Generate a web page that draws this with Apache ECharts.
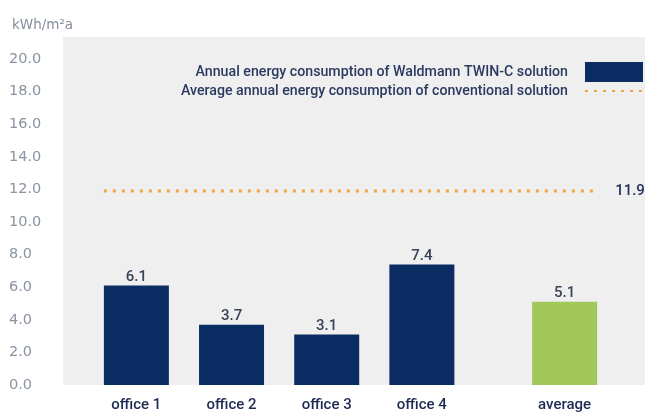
<!DOCTYPE html>
<html>
<head>
<meta charset="utf-8">
<script src="https://cdn.jsdelivr.net/npm/echarts@6/dist/echarts.min.js"></script>
<style>
html,body{margin:0;padding:0;background:#fff;}
#c{width:645px;height:413px;}
</style>
</head>
<body>
<div id="c"></div>
<script>
// ---- data ----
var categories = ['office 1', 'office 2', 'office 3', 'office 4', 'average'];
var values = [6.1, 3.7, 3.1, 7.4, 5.1];
var conventionalAvg = 11.9;
var yTicks = [0, 2, 4, 6, 8, 10, 12, 14, 16, 18, 20];
var unitLabel = 'kWh/m\u00B2a';
var seriesNames = ['Annual energy consumption of Waldmann TWIN-C solution',
                   'Average annual energy consumption of conventional solution'];

// ---- layout helpers (slot positions on a half-step category axis) ----
var slotIndex = [1, 3, 5, 7, 10];
var nSlots = 12;
var slotCats = [];
for (var i = 0; i < nSlots; i++) slotCats.push('');
slotIndex.forEach(function (s, k) { slotCats[s] = categories[k]; });
var barData = [];
for (var j = 0; j < nSlots; j++) barData.push(null);
slotIndex.forEach(function (s, k) {
  var item = { value: values[k] };
  if (categories[k] === 'average') item.itemStyle = { color: '#a2c85b' };
  barData[s] = item;
});

var gridLeft = 65, gridRight = 9;
var slotW = (645 - gridLeft - gridRight) / nSlots;
var barW = 65;
var half = barW / 2 / slotW;
var lineData = [[slotIndex[0] - half, conventionalAvg], [slotIndex[slotIndex.length - 1] + half, conventionalAvg]];

var narrow = "Roboto, sans-serif";
var navy = '#0b2c62';

var chart = echarts.init(document.getElementById('c'));
chart.setOption({
  animation: false,
  backgroundColor: '#ffffff',
  graphic: [{
    type: 'rect', z: -10, silent: true,
    shape: { x: 63, y: 37, width: 582, height: 348 },
    style: { fill: '#efefef' }
  }],
  title: {
    text: unitLabel, left: 7, top: 13,
    textStyle: { fontFamily: 'DejaVu Sans', fontSize: 13.5, fontWeight: 'normal', color: '#858e9c' }
  },
  legend: {
    orient: 'vertical', right: -4, top: 57, align: 'right',
    itemWidth: 58, itemHeight: 20, itemGap: 1,
    textStyle: { fontFamily: narrow, fontSize: 14.2, fontWeight: 500, color: '#2a3a60', padding: [0, 12, 0, 0] },
    data: [{ name: seriesNames[0], icon: 'rect' }, { name: seriesNames[1], itemStyle: { opacity: 0 } }]
  },
  grid: { left: gridLeft, right: gridRight, top: 59, bottom: 28 },
  xAxis: [{
    type: 'category', data: slotCats,
    axisLine: { show: false }, axisTick: { show: false },
    axisLabel: { interval: 0, margin: 13, fontFamily: narrow, fontSize: 15, fontWeight: 500, color: '#1d2b52' }
  }, {
    type: 'value', show: false, min: -0.5, max: nSlots - 0.5
  }],
  yAxis: {
    type: 'value', min: yTicks[0], max: yTicks[yTicks.length - 1], interval: yTicks[1] - yTicks[0],
    splitLine: { show: false }, axisLine: { show: false }, axisTick: { show: false },
    axisLabel: {
      align: 'left', margin: 56, fontFamily: 'DejaVu Sans', fontSize: 14.5, color: '#8a93a0',
      formatter: function (v) { return v.toFixed(1); }
    }
  },
  series: [{
    name: seriesNames[0], type: 'bar', data: barData, barWidth: barW,
    itemStyle: { color: navy },
    label: { show: true, position: 'top', distance: 1, fontFamily: narrow, fontSize: 15, fontWeight: 500, color: '#384258',
             formatter: function (p) { return p.value.toFixed(1); } }
  }, {
    name: seriesNames[1], type: 'line', xAxisIndex: 1, data: lineData,
    symbol: 'none', z: 5,
    lineStyle: { color: '#f2a53f', width: 3, type: [3, 6] },
    itemStyle: { color: '#f2a53f' },
    endLabel: { show: true, distance: 18, fontFamily: narrow, fontSize: 15, fontWeight: 500, color: '#23335a',
                formatter: function (p) { return p.value[1].toFixed(1); } }
  }]
});
</script>
</body>
</html>
